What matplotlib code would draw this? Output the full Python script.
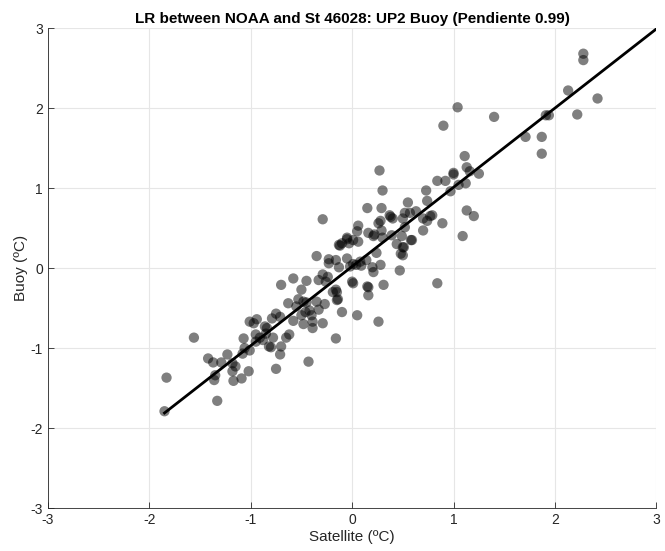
import numpy as np
import matplotlib.pyplot as plt

plt.rcParams['font.family'] = ['Liberation Sans', 'DejaVu Sans']
plt.rcParams['axes.unicode_minus'] = False

# satellite vs buoy anomalies
sat = [-1.83, -1.85, -1.56, -1.33, -1.42, -1.37, -1.29, -1.23, -1.35, -1.36,
       -1.18, -1.15, -1.18, -1.17, -1.09, -1.02, -1.07, -1.08, -1.01,
       -1.06, -0.97, -0.94, -0.95, -0.91, -0.86, -0.85, -0.82, -0.95, -1.01,
       -0.84, -0.88, -0.80, -0.78, -0.70, -0.71, -0.75, -0.65, -0.62, -0.75,
       -0.71, -0.79, -0.70, -0.58, -0.63, -0.58,
       -0.53, -0.48, -0.45, -0.50, -0.45, -0.35, -0.27, -0.50, -0.39, -0.48,
       -0.39, -0.29, -0.43, -0.33, -0.29, -0.24, -0.26, -0.35, -0.23, -0.29,
       -0.55, -0.42, -0.40, -0.46, -0.33,
       -0.13, -0.05, 0.04, 0.08, -0.02, 0.00, -0.16, -0.15, -0.15, -0.10,
       0.05, -0.16, 0.15, 0.16, -0.19, -0.14, -0.13, -0.05, -0.16, -0.23,
       -0.05, 0.01, 0.06, -0.10, -0.03, -0.12, 0.14, 0.01, 0.09, 0.20,
       0.21, 0.01, 0.16, 0.06, 0.05, 0.16, 0.15,
       0.27, 0.30, 0.29, 0.37, 0.40, 0.52, 0.57, 0.63, 0.50, 0.26,
       0.28, 0.52, 0.22, 0.21, 0.29, 0.30, 0.39, 0.49, 0.58, 0.50,
       0.50, 0.24, 0.28, 0.47, 0.31, 0.26, 0.55, 0.38, 0.59, 0.51,
       0.73, 0.74, 0.84, 0.92, 1.00, 0.97, 0.84, 0.70, 0.77, 0.74,
       0.79, 0.70, 0.89, 1.09, 1.13, 1.20, 1.04, 1.40, 0.90, 1.11,
       1.13, 1.16, 1.00, 1.25, 1.12, 1.05, 0.44, 0.48,
       2.28, 2.28, 2.13, 2.42, 1.91, 1.94, 2.22, 1.71, 1.87, 1.87]
buoy = [-1.37, -1.79, -0.87, -1.66, -1.13, -1.18, -1.18, -1.08, -1.34, -1.40,
        -1.19, -1.23, -1.29, -1.41, -1.38, -1.29, -0.88, -1.07, -1.03,
        -1.00, -0.69, -0.64, -0.83, -0.87, -0.73, -0.82, -0.98, -0.92, -0.67,
        -0.75, -0.90, -0.99, -0.87, -0.98, -1.08, -1.26, -0.87, -0.83, -0.57,
        -0.61, -0.63, -0.21, -0.13, -0.44, -0.66,
        -0.39, -0.42, -0.43, -0.27, -0.16, -0.42, -0.45, -0.59, -0.67, -0.70,
        -0.75, -0.69, -1.17, -0.15, -0.08, -0.11, -0.17, 0.15, 0.06, 0.61,
        -0.48, -0.53, -0.59, -0.55, -0.52,
        0.01, 0.12, 0.04, 0.08, 0.02, -0.17, -0.27, -0.30, -0.40, -0.55,
        -0.59, -0.88, -0.23, -0.34, -0.30, -0.39, 0.29, 0.36, 0.10, 0.11,
        0.38, 0.35, 0.33, 0.31, 0.31, 0.28, 0.10, 0.05, 0.03, 0.01,
        -0.05, -0.19, -0.24, 0.53, 0.46, 0.44, 0.75,
        1.22, 0.97, 0.75, 0.66, 0.62, 0.69, 0.69, 0.71, 0.62, 0.56,
        0.59, 0.51, 0.42, 0.40, 0.47, 0.38, 0.41, 0.40, 0.35, 0.26,
        0.16, 0.19, 0.04, -0.03, -0.21, -0.67, 0.82, 0.64, 0.35, 0.26,
        0.97, 0.84, 1.09, 1.09, 1.17, 0.96, -0.19, 0.47, 0.65, 0.59,
        0.66, 0.62, 0.56, 0.40, 0.72, 0.65, 2.01, 1.89, 1.78, 1.40,
        1.26, 1.21, 1.19, 1.18, 1.06, 1.04, 0.30, 0.18,
        2.68, 2.60, 2.22, 2.12, 1.91, 1.91, 1.92, 1.64, 1.64, 1.43]

slope = 0.99
intercept = 0.02

fig = plt.figure(figsize=(6.65, 5.51), dpi=100)
ax = fig.add_axes([0.072, 0.078, 0.915, 0.871])

ax.scatter(sat, buoy, s=55, color='black', alpha=0.5, edgecolors='none', zorder=3)

xl = np.array([min(sat), 3])
ax.plot(xl, slope * xl + intercept, color='black', linewidth=2, zorder=4)

ax.set_xlim(-3, 3)
ax.set_ylim(-3, 3)
ax.set_xticks(range(-3, 4))
ax.set_yticks(range(-3, 4))
ax.grid(True, color='#e6e6e6', linewidth=0.8)
ax.set_axisbelow(True)

for s in ['top', 'right']:
    ax.spines[s].set_visible(False)
for s in ['left', 'bottom']:
    ax.spines[s].set_color('#262626')
    ax.spines[s].set_linewidth(0.6)
ax.tick_params(direction='in', length=4, width=0.6, colors='#262626', labelsize=10)

ax.set_xlabel('Satellite (ºC)', fontsize=11, color='#262626', labelpad=2)
ax.set_ylabel('Buoy (ºC)', fontsize=11, color='#262626', labelpad=2)
ax.set_title('LR between NOAA and St 46028: UP2 Buoy (Pendiente 0.99)',
             fontsize=11, fontweight='bold', pad=4)

plt.savefig('out.png', dpi=100)
